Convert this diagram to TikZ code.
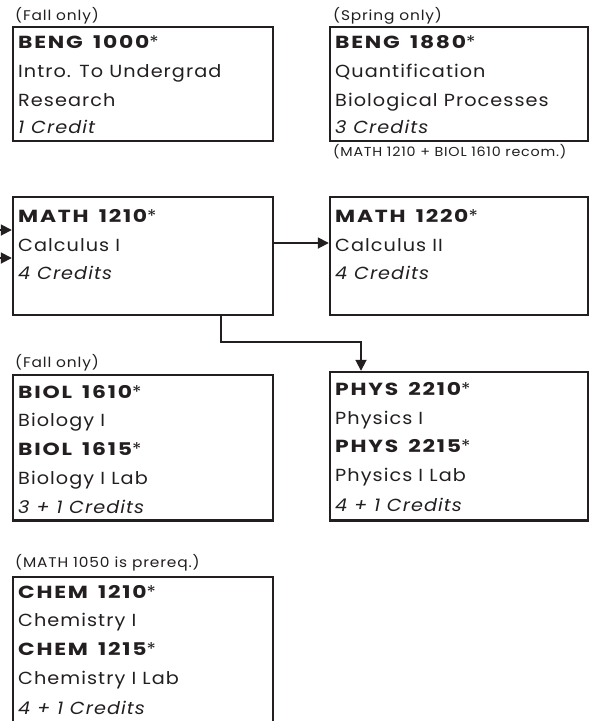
\documentclass[tikz,border=0pt]{standalone}
\usepackage{fontspec}
\setmainfont{Poppins}[FakeStretch=1.1, LetterSpace=6, BoldFeatures={FakeStretch=1.25, LetterSpace=10, WordSpace=1.6}]
\usetikzlibrary{arrows.meta}
\definecolor{ink}{RGB}{35,31,32}
\begin{document}
\begin{tikzpicture}[x=1pt,y=-1pt,
  box/.style={draw=ink, line width=2.4pt, inner sep=0pt},
  ln/.style={anchor=base west, inner sep=0pt, text=ink, font=\fontsize{17.5}{20}\selectfont},
  note/.style={anchor=base west, inner sep=0pt, text=ink, font=\fontsize{14}{16}\selectfont},
  small/.style={anchor=base west, inner sep=0pt, text=ink, font=\fontsize{13}{15}\selectfont},
  arr/.style={draw=ink, line width=1.8pt, -{Triangle[length=11pt,width=11pt]}},
  wire/.style={draw=ink, line width=1.8pt}
]
\useasboundingbox (0,0) rectangle (591,721);
\clip (0,0) rectangle (591,721);
\fill[white] (0,0) rectangle (591,721);

% boxes
\node[box, minimum width=260pt, minimum height=114pt] (b1000) at (143,84) {};
\node[box, minimum width=258pt, minimum height=114pt] (b1880) at (459,84) {};
\node[box, minimum width=260pt, minimum height=118pt] (m1210) at (143,256) {};
\node[box, minimum width=258pt, minimum height=118pt] (m1220) at (459,256) {};
\node[box, minimum width=260pt, minimum height=145.5pt] (biol) at (143,447.75) {};
\node[box, minimum width=258pt, minimum height=148.5pt] (phys) at (459,446.25) {};
\node[box, minimum width=260pt, minimum height=190pt] (chem) at (143,672) {};

% BENG 1000
\node[note] (n1) at (15,20) {(Fall only)};
\node[ln] (b1000a) at (18,48.3) {{\bfseries BENG 1000}*};
\node[ln] (b1000b) at (18,77.3) {Intro. To Undergrad};
\node[ln] (b1000c) at (18,106) {Research};
\node[ln] (b1000d) at (18,133.3) {\itshape 1 Credit};

% BENG 1880
\node[note] (n2) at (333,20) {(Spring only)};
\node[ln] (b1880a) at (335,48.3) {{\bfseries BENG 1880}*};
\node[ln] (b1880b) at (335,77.3) {Quantification};
\node[ln] (b1880c) at (335,106) {Biological Processes};
\node[ln] (b1880d) at (335,133.3) {\itshape 3 Credits};
\node[small] (n3) at (333,156.7) {(MATH 1210 + BIOL 1610 recom.)};

% MATH 1210
\node[ln] (m1210a) at (18,222.7) {{\bfseries MATH 1210}*};
\node[ln] (m1210b) at (18,251.7) {Calculus I};
\node[ln] (m1210c) at (18,279.3) {\itshape 4 Credits};

% MATH 1220
\node[ln] (m1220a) at (335,222.7) {{\bfseries MATH 1220}*};
\node[ln] (m1220b) at (335,251.7) {Calculus II};
\node[ln] (m1220c) at (335,279.3) {\itshape 4 Credits};

% BIOL
\node[note] (n4) at (15,367) {(Fall only)};
\node[ln] (biola) at (18,398.3) {{\bfseries BIOL 1610}*};
\node[ln] (biolb) at (18,426.7) {Biology I};
\node[ln] (biolc) at (18,455) {{\bfseries BIOL 1615}*};
\node[ln] (biold) at (18,484) {Biology I Lab};
\node[ln] (biole) at (18,513) {\itshape 3 + 1 Credits};

% PHYS
\node[ln] (physa) at (335,395) {{\bfseries PHYS 2210}*};
\node[ln] (physb) at (335,424) {Physics I};
\node[ln] (physc) at (335,452.7) {{\bfseries PHYS 2215}*};
\node[ln] (physd) at (335,481.7) {Physics I Lab};
\node[ln] (physe) at (335,511.7) {\itshape 4 + 1 Credits};

% CHEM
\node[note] (n5) at (15,567.3) {(MATH 1050 is prereq.)};
\node[ln] (chema) at (18,598.3) {{\bfseries CHEM 1210}*};
\node[ln] (chemb) at (18,626.7) {Chemistry I};
\node[ln] (chemc) at (18,655.7) {{\bfseries CHEM 1215}*};
\node[ln] (chemd) at (18,684.3) {Chemistry I Lab};
\node[ln] (cheme) at (18,714) {\itshape 4 + 1 Credits};

% connectors
\coordinate (in1) at (0,230);
\coordinate (in2) at (0,258);
\draw[arr] (in1) -- (m1210.west |- in1);
\draw[arr] (in2) -- (m1210.west |- in2);
\draw[arr] (m1210.east |- 0,243) -- (m1220.west |- 0,243);
\draw[arr] (m1210.south -| 221,0) -- (221,342) -| (phys.north -| 361,0);
\end{tikzpicture}
\end{document}
